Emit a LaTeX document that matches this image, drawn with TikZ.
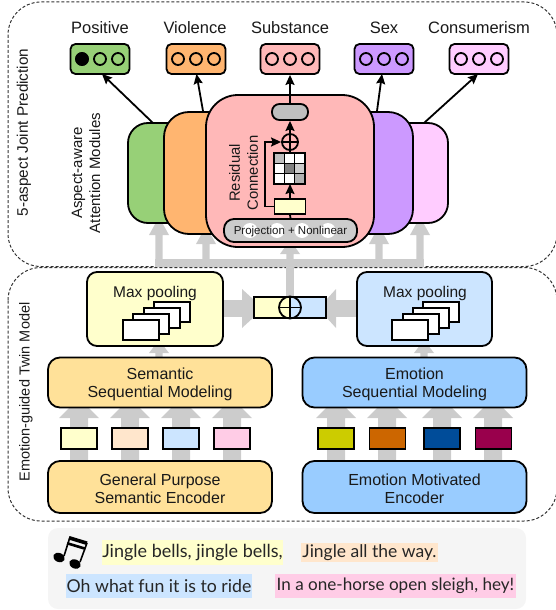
\documentclass[tikz,border=0pt]{standalone}
\usepackage{fontspec}
\setmainfont{Liberation Sans}
\newfontfamily\lyric{Lato}
\usetikzlibrary{arrows.meta}
\definecolor{cgreen}{HTML}{97D077}
\definecolor{corange}{HTML}{FFB570}
\definecolor{cred}{HTML}{FFB8B8}
\definecolor{cpurple}{HTML}{CC99FF}
\definecolor{cpink}{HTML}{FFCCFF}
\definecolor{cyel}{HTML}{FFFFCC}
\definecolor{cpeach}{HTML}{FFE6CC}
\definecolor{cblue}{HTML}{CCE5FF}
\definecolor{crose}{HTML}{FFCCE6}
\definecolor{cgold}{HTML}{FFE199}
\definecolor{csky}{HTML}{99CCFF}
\definecolor{cgr}{HTML}{CCCCCC}
\tikzset{
  x=1pt,y=-1pt,
  txt/.style={font=\fontsize{16.5}{18}\selectfont,text=black!90,inner sep=0pt,align=center},
  stxt/.style={font=\fontsize{16}{18.5}\selectfont,text=black!90,inner sep=0pt,align=center},
  box/.style={draw=black,line width=1.8pt},
  dashbox/.style={draw=black!80,line width=1pt,dash pattern=on 3pt off 2pt},
  bk/.style={draw=black,line width=1.8pt,-{Stealth[length=10pt,width=9pt,inset=1.5pt]}},
}
\newcommand{\predbox}[3]{% name, center x, colour
  \node[box,fill=#3,rounded corners=5pt,minimum width=59pt,minimum height=30pt,inner sep=0pt] (#1) at (#2,59) {};
  \foreach \dx in {-18,0,18}{\draw[line width=1.8pt,fill=#3] (#2+\dx,59) circle (6);}
}
\newcommand{\fatup}[5]{% x, tip y, head base y, stem bottom y, head half-width (stem half-width 9)
  \fill[cgr] (#1-#5,#3)--(#1,#2)--(#1+#5,#3)--(#1+9,#3)--(#1+9,#4)--(#1-9,#4)--(#1-9,#3)--cycle;
}
\newcommand{\thinup}[4]{% x, tip y, head base y, stem bottom y
  \fill[cgr] (#1-10,#3)--(#1,#2)--(#1+10,#3)--(#1+3.7,#3)--(#1+3.7,#4)--(#1-3.7,#4)--(#1-3.7,#3)--cycle;
}
\newcommand{\stack}[1]{%
  \foreach \i in {3,2,1,0}{
    \draw[line width=1.8pt,fill=white] (#1+\i*10.3,320-\i*6) rectangle ++(36,20);
  }
}
\begin{document}
\begin{tikzpicture}
\useasboundingbox (0,0) rectangle (555,610);
% dashed frames
\draw[dashbox,rounded corners=33pt] (8,2) rectangle (557,266.5);
\draw[dashbox,rounded corners=33pt] (8,267.5) rectangle (557,521);
% fat arrows to modules
\fill[cgr] (155.3,259) rectangle (424,267);
\thinup{159}{217}{235}{262}
\thinup{206}{226}{244}{262}
\thinup{290}{240}{254}{262}
\thinup{379}{226}{244}{262}
\thinup{420}{217}{235}{262}
\fill[cgr] (286.3,259) rectangle (293.7,300);
% modules
\draw[box,fill=cgreen,rounded corners=20pt] (128,123) rectangle (200,223);
\draw[box,fill=cpink,rounded corners=20pt] (376,123) rectangle (448,223);
\draw[box,fill=corange,rounded corners=25pt] (164,112) rectangle (240,234);
\draw[box,fill=cpurple,rounded corners=25pt] (340,112) rectangle (413,234);
\node[box,fill=cred,rounded corners=32pt,minimum width=168pt,minimum height=152pt,inner sep=0pt] (main) at (290,171) {};
% prediction boxes
\predbox{pa}{100}{cgreen}
\predbox{pb}{196}{corange}
\predbox{pc}{290}{cred}
\predbox{pd}{384}{cpurple}
\predbox{pe}{479}{cpink}
\fill[black] (82,59) circle (6.8);
\node[txt] at (100,27.5) {Positive};
\node[txt] at (195,27.5) {Violence};
\node[txt] at (290,27.5) {Substance};
\node[txt] at (384,27.5) {Sex};
\node[txt] at (479,27.5) {Consumerism};
% module internals
\node[box,fill=black!25,rounded corners=7.5pt,minimum width=36pt,minimum height=16pt,inner sep=0pt] (pill) at (290,112) {};
\node[box,circle,minimum size=16pt,inner sep=0pt] (sum) at (290,142) {};
\draw[line width=1.4pt] (282,142)--(298,142) (290,134)--(290,150);
\foreach \c/\i/\j in {black!25/0/0,white/1/0,white/2/0,white/0/1,black!50/1/1,black!20/2/1,white/0/2,white/1/2,black!30/2/2}{
  \fill[\c] (274+\i*10.3,153+\j*10.3) rectangle ++(10.3,10.3);
}
\draw[line width=1.8pt] (274,153) rectangle (305,184);
\draw[line width=1.4pt] (284.3,153)--(284.3,184) (294.7,153)--(294.7,184) (274,163.3)--(305,163.3) (274,173.7)--(305,173.7);
\coordinate (gridtop) at (290,153);
\coordinate (gridbot) at (290,184);
\node[box,fill=cyel,minimum width=31pt,minimum height=15pt,inner sep=0pt] (yb) at (290,206.5) {};
\node[box,fill=cgr,rounded corners=10pt,minimum width=133pt,minimum height=23pt,inner sep=0pt] (proj) at (290.5,230.5) {};
\foreach \x in {250,277,302,328}{\fill[white] (\x,230.5) circle (7.5);}
\node[font=\fontsize{11.5}{13}\selectfont,text=black!90,inner sep=0pt] at (290.5,232) {Projection + Nonlinear};
\draw[line width=1.8pt] (yb.south)--(proj.north);
\draw[bk] (yb.north)--(gridbot);
\draw[bk] (sum.north)--(pill.south);
\draw[line width=1.8pt] (gridtop)--(sum.south);
\draw[bk] (yb.west)--(264.7,206.5)--(264.7,142)--(sum.west);
\node[stxt,rotate=90,font=\fontsize{14.8}{18}\selectfont] at (243.5,173) {Residual\\Connection};
% black arrows
\draw[bk] (153,123)--(102,74);
\draw[bk] (203,111)--(196.5,74);
\draw[bk] (pill.north)--(pc.south);
\draw[bk] (377,111)--(382,74);
\draw[bk] (424,123)--(478,74);
% side labels
\node[txt,rotate=90,font=\fontsize{15.3}{18}\selectfont] at (24,132.5) {5-aspect Joint Prediction};
\node[stxt,rotate=90,font=\fontsize{15}{18}\selectfont] at (86,173) {Aspect-aware\\Attention Modules};
\node[txt,rotate=90,font=\fontsize{14.5}{18}\selectfont] at (26,392) {Emotion-guided Twin Model};
% concat & fat horizontal arrows
\fill[cgr] (222,300) rectangle (243,317);
\fill[cgr] (242,289)--(254,300)--(254,317)--(242,328)--cycle;
\fill[cgr] (336,300) rectangle (358,317);
\fill[cgr] (336,289)--(326,300)--(326,317)--(336,328)--cycle;
\draw[line width=1.8pt,fill=cyel] (254,297) rectangle (290,318);
\draw[line width=1.8pt,fill=cblue] (290,297) rectangle (326,318);
\node[circle,draw=black,line width=1.8pt,minimum size=22pt,inner sep=0pt] (con) at (290,307.5) {};
\draw[line width=1.8pt] (279,307.5)--(301,307.5) (290,296.5)--(290,318.5);
% max pooling
\thinup{159}{340}{353}{360}
\thinup{424}{340}{353}{360}
\node[box,fill=cyel,rounded corners=10pt,minimum width=136pt,minimum height=74pt,inner sep=0pt] (mpl) at (155,309) {};
\node[box,fill=cblue,rounded corners=10pt,minimum width=135pt,minimum height=74pt,inner sep=0pt] (mpr) at (424.5,309) {};
\node[stxt,font=\fontsize{15.5}{18}\selectfont] at (155,293) {Max pooling};
\node[stxt,font=\fontsize{15.5}{18}\selectfont] at (425,293) {Max pooling};
\stack{123}
\stack{392.3}
% fat up arrows between rows
\foreach \x in {79,130,181,232,336,387,442,493}{\fatup{\x}{398}{418}{462}{20}}
% sequential modeling
\node[box,fill=cgold,rounded corners=12pt,minimum width=224pt,minimum height=50pt,inner sep=0pt] (sl) at (160,382.5) {};
\node[stxt] at (160,384.5) {Semantic\\Sequential Modeling};
\node[box,fill=csky,rounded corners=12pt,minimum width=224pt,minimum height=50pt,inner sep=0pt] (sr) at (414.5,382.5) {};
\node[stxt] at (414.5,384.5) {Emotion\\Sequential Modeling};
% encoders
\node[box,fill=cgold,rounded corners=12pt,minimum width=224pt,minimum height=52pt,inner sep=0pt] (el) at (160,487) {};
\node[stxt] at (160,489) {General Purpose\\Semantic Encoder};
\node[box,fill=csky,rounded corners=12pt,minimum width=224pt,minimum height=52pt,inner sep=0pt] (er) at (414.5,487) {};
\node[stxt] at (414.5,489) {Emotion Motivated\\Encoder};
% small tokens
\foreach \n/\x/\c in {a/79/FFFFCC,b/130/FFE6CC,c/181/CCE5FF,d/232/FFCCE6,e/336/CCCC00,f/387.5/CC6600,g/442/004C99,h/493.5/99004C}{
  \definecolor{tmpc}{HTML}{\c}
  \node[box,fill=tmpc,minimum width=36pt,minimum height=21pt,inner sep=0pt] (t\n) at (\x,438.5) {};
}
% lyrics panel
\fill[black!4,rounded corners=10pt] (48,528) rectangle (526,609);
\fill[cyel] (102,540) rectangle (283,565);
\fill[cpeach] (301,543) rectangle (438,562);
\fill[cblue] (66,574) rectangle (252,598);
\fill[crose] (275,574) rectangle (516,598);
\node[font=\fontsize{18}{20}\selectfont\lyric,text=black!85,inner sep=0pt] at (192.5,552.5) {Jingle bells, jingle bells,};
\node[font=\fontsize{17.5}{20}\selectfont\lyric,text=black!85,inner sep=0pt] at (369.5,552.5) {Jingle all the way.};
\node[font=\fontsize{17.7}{20}\selectfont\lyric,text=black!85,inner sep=0pt] at (159,586) {Oh what fun it is to ride};
\node[font=\fontsize{17.1}{20}\selectfont\lyric,text=black!85,inner sep=0pt] at (395.5,586) {In a one-horse open sleigh, hey!};
% note
\fill[black,rotate around={-25:(59,557.5)}] (59,557.5) ellipse (6 and 4.5);
\fill[black,rotate around={-25:(75,564)}] (75,564) ellipse (6 and 4.5);
\draw[line width=1.6pt] (64,556)--(70,537) (80,562)--(87,543);
\fill[black] (69.5,536)--(87.5,541.5)--(86.5,545)--(68.5,539.5)--cycle;
\fill[black] (67.5,542)--(85.8,547.5)--(85,550)--(66.7,544.5)--cycle;
\end{tikzpicture}
\end{document}
